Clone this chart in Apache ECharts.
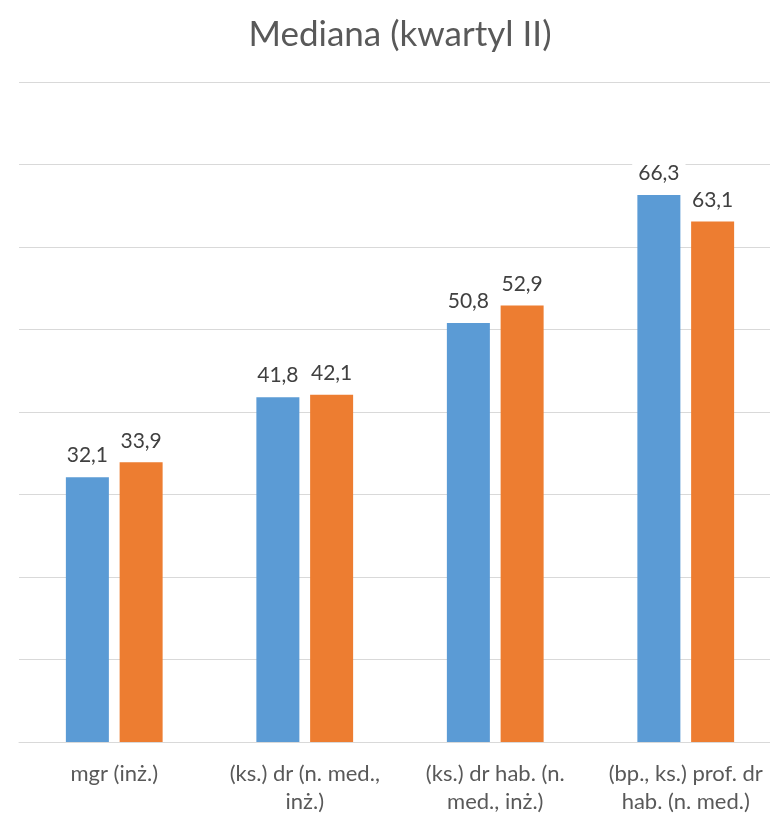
<!DOCTYPE html>
<html>
<head>
<meta charset="utf-8">
<script src="https://cdn.jsdelivr.net/npm/echarts@6/dist/echarts.min.js"></script>
<style>html,body{margin:0;padding:0;background:#fff;overflow:hidden}#c{width:800px;height:816px}</style>
</head>
<body>
<div id="c"></div>
<script>
const title = 'Mediana (kwartyl II)';
const categories = ['mgr (inż.)', '(ks.) dr (n. med.,\ninż.)', '(ks.) dr hab. (n.\nmed., inż.)', '(bp., ks.) prof. dr\nhab. (n. med.)'];
const seriesA = [32.1, 41.8, 50.8, 66.3];
const seriesB = [33.9, 42.1, 52.9, 63.1];
const yTicks = {min: 0, max: 80, interval: 10};

const FONT = 'Lato';
const fmt = p => p.value.toFixed(1).replace('.', ',');
const labelCfg = {
  show: true, position: 'top', distance: 11, formatter: fmt,
  fontFamily: FONT, fontSize: 21, color: '#404040',
  backgroundColor: '#fff', padding: [0, 6]
};
const chart = echarts.init(document.getElementById('c'), null, {renderer: 'canvas'});
chart.setOption({
  animation: false,
  backgroundColor: '#fff',
  title: {
    text: title, left: 'center', top: 12,
    textStyle: {fontFamily: FONT, fontSize: 35, fontWeight: 'normal', color: '#595959'}
  },
  grid: {left: 19, right: 19, top: 82, bottom: 73, containLabel: false},
  xAxis: {
    type: 'category', data: categories,
    axisLine: {lineStyle: {color: '#D9D9D9', width: 1}},
    axisTick: {show: false},
    axisLabel: {fontFamily: FONT, fontSize: 22, color: '#595959', lineHeight: 28, margin: 18, interval: 0}
  },
  yAxis: {
    type: 'value', min: yTicks.min, max: yTicks.max, interval: yTicks.interval,
    axisLine: {show: false}, axisTick: {show: false}, axisLabel: {show: false},
    splitLine: {lineStyle: {color: '#D9D9D9', width: 1}}
  },
  series: [
    {type: 'bar', data: seriesA, barWidth: 43, barGap: '25%', itemStyle: {color: '#5B9BD5'}, label: labelCfg},
    {type: 'bar', data: seriesB, barWidth: 43, barGap: '25%', itemStyle: {color: '#ED7D31'}, label: labelCfg}
  ]
});
</script>
</body>
</html>
